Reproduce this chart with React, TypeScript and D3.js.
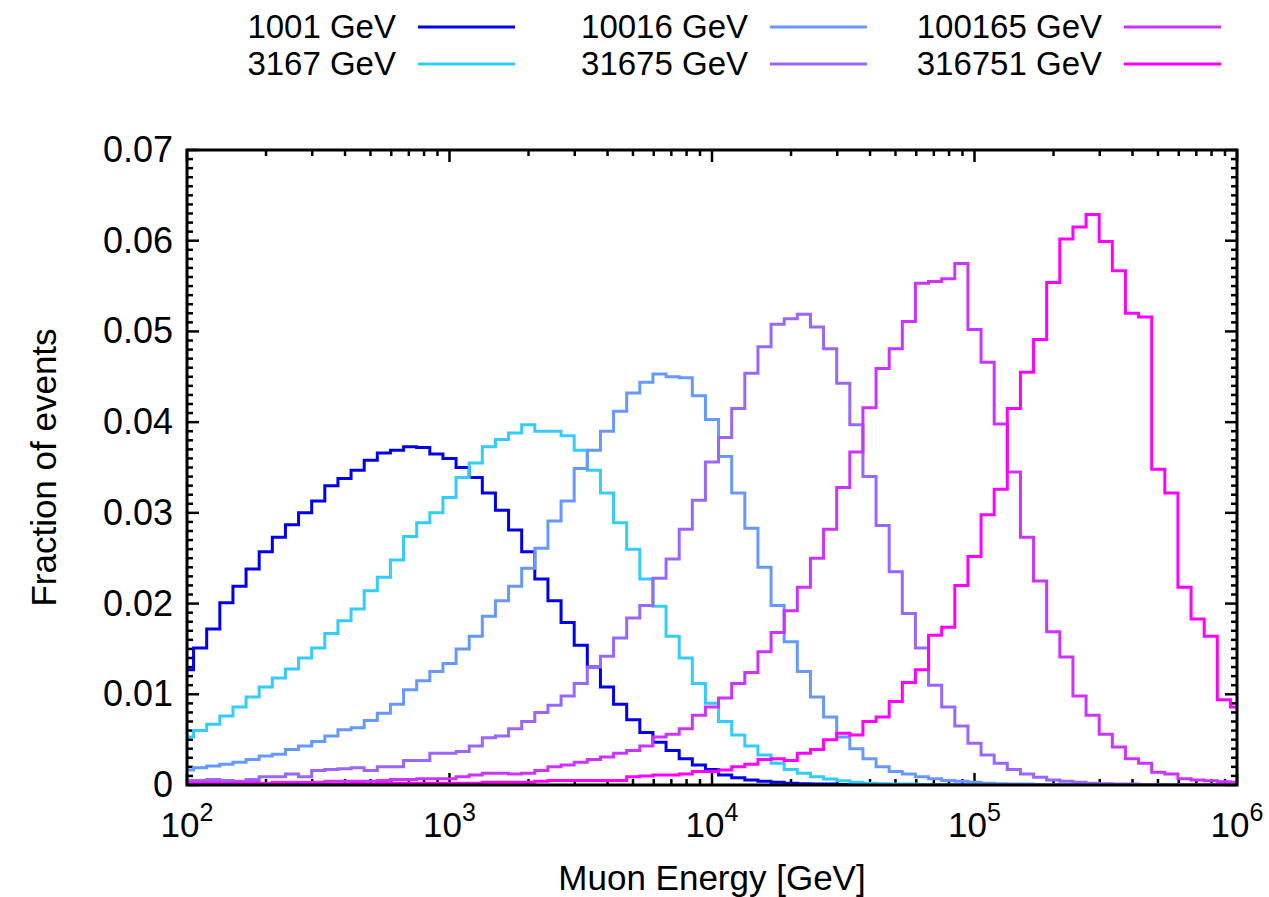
import React from 'react';
import * as d3 from 'd3';

const seriesLabels = ['1001 GeV', '3167 GeV', '10016 GeV', '31675 GeV', '100165 GeV', '316751 GeV'];
const seriesColors = ['#0000ee', '#33ccff', '#6699ff', '#9966ff', '#cc33ff', '#ff00ff'];

const e1001 = [
  0.0127, 0.0151, 0.0172, 0.0201, 0.0219, 0.0238, 0.0257, 0.0273, 0.0287, 0.0300,
  0.0313, 0.0330, 0.0338, 0.0347, 0.0358, 0.0366, 0.0369, 0.0373, 0.0372, 0.0365,
  0.0360, 0.0350, 0.0339, 0.0322, 0.0303, 0.0281, 0.0257, 0.0227, 0.0203, 0.0179,
  0.0154, 0.0130, 0.0108, 0.0089, 0.0072, 0.0058, 0.0047, 0.0038, 0.0029, 0.0022,
  0.0017, 0.0011, 0.0008, 0.00055, 0.0004, 0.0003, 0.0002, 0.00015, 0.0001, 0.0001,
  0.00005, 0, 0, 0, 0, 0, 0, 0, 0, 0,
  0, 0, 0, 0, 0, 0, 0, 0, 0, 0,
  0, 0, 0, 0, 0, 0, 0, 0, 0, 0,
  0,
];
const e3167 = [
  0.0053, 0.0060, 0.0067, 0.0076, 0.0086, 0.0097, 0.0108, 0.0118, 0.0128, 0.0140,
  0.0151, 0.0167, 0.0181, 0.0194, 0.0214, 0.0229, 0.0248, 0.0274, 0.0289, 0.0300,
  0.0317, 0.0339, 0.0355, 0.0373, 0.0381, 0.0388, 0.0397, 0.0390, 0.0390, 0.0385,
  0.0369, 0.0347, 0.0322, 0.0289, 0.0260, 0.0227, 0.0197, 0.0164, 0.0140, 0.0112,
  0.0090, 0.0070, 0.0055, 0.0043, 0.0033, 0.0024, 0.0017, 0.0013, 0.0009, 0.00066,
  0.00047, 0.0003, 0.0002, 0.00015, 0.0001, 0.0001, 0.00005, 0, 0, 0,
  0, 0, 0, 0, 0, 0, 0, 0, 0, 0,
  0, 0, 0, 0, 0, 0, 0, 0, 0, 0,
  0,
];
const e10016 = [
  0.00165, 0.0019, 0.0021, 0.0023, 0.0025, 0.0028, 0.0032, 0.0034, 0.0039, 0.0043,
  0.0048, 0.0054, 0.0061, 0.0063, 0.0071, 0.0079, 0.0089, 0.0105, 0.0115, 0.0125,
  0.0134, 0.0150, 0.0164, 0.0186, 0.0203, 0.0219, 0.0239, 0.0261, 0.0291, 0.0313,
  0.0349, 0.0369, 0.0390, 0.0412, 0.0432, 0.0444, 0.0453, 0.0450, 0.0449, 0.0429,
  0.0403, 0.0362, 0.0322, 0.0283, 0.0240, 0.0198, 0.0158, 0.0125, 0.0097, 0.0075,
  0.0053, 0.0040, 0.0029, 0.0020, 0.0015, 0.0012, 0.0009, 0.0007, 0.0005, 0.0004,
  0.0003, 0.0002, 0.00015, 0.0001, 0.0001, 0.00005, 0, 0, 0, 0,
  0, 0, 0, 0, 0, 0, 0, 0, 0, 0,
  0,
];
const e31675 = [
  0.0005, 0.0005, 0.0006, 0.0005, 0.0004, 0.0006, 0.0009, 0.0009, 0.0012, 0.0009,
  0.0016, 0.0017, 0.0018, 0.0019, 0.0016, 0.0020, 0.0020, 0.0027, 0.0027, 0.0035,
  0.0035, 0.0037, 0.0043, 0.0052, 0.0054, 0.0062, 0.0070, 0.0080, 0.0088, 0.0098,
  0.0112, 0.0130, 0.0142, 0.0162, 0.0184, 0.0198, 0.0228, 0.0249, 0.0282, 0.0314,
  0.0356, 0.0383, 0.0415, 0.0454, 0.0483, 0.0508, 0.0514, 0.0519, 0.0505, 0.0481,
  0.0443, 0.0397, 0.0340, 0.0286, 0.0235, 0.0189, 0.0151, 0.0110, 0.0086, 0.0065,
  0.0046, 0.0033, 0.0024, 0.0017, 0.0012, 0.00085, 0.00055, 0.0004, 0.0003, 0.0002,
  0.00015, 0.0001, 0.0001, 0.00005, 0, 0, 0, 0, 0, 0,
  0,
];
const e100165 = [
  0.0003, 0.0003, 0.0003, 0.0002, 0.0003, 0.0003, 0.0002, 0.0003, 0.0003, 0.0003,
  0.0003, 0.0004, 0.0004, 0.0004, 0.0004, 0.0005, 0.0006, 0.0006, 0.0007, 0.0007,
  0.0007, 0.0009, 0.0011, 0.0013, 0.0013, 0.0012, 0.0013, 0.0016, 0.0020, 0.0022,
  0.0025, 0.0028, 0.0031, 0.0035, 0.0038, 0.0043, 0.0053, 0.0056, 0.0062, 0.0077,
  0.0086, 0.0096, 0.0112, 0.0124, 0.0147, 0.0168, 0.0192, 0.0218, 0.0250, 0.0282,
  0.0328, 0.0367, 0.0416, 0.0459, 0.0481, 0.0511, 0.0553, 0.0555, 0.0558, 0.0575,
  0.0502, 0.0466, 0.0398, 0.0345, 0.0273, 0.0225, 0.0169, 0.0141, 0.0098, 0.0077,
  0.0056, 0.0042, 0.0029, 0.0024, 0.0014, 0.0012, 0.0007, 0.00055, 0.00047, 0.00036,
  0.0003,
];
const e316751 = [
  0.0001, 0.0001, 0.0001, 0.0001, 0.0001, 0.0001, 0.0001, 0.0001, 0.0001, 0.0001,
  0.0001, 0.0001, 0.0001, 0.0002, 0.0001, 0.0002, 0.0002, 0.0002, 0.0002, 0.0002,
  0.0002, 0.0002, 0.0002, 0.0003, 0.0003, 0.0003, 0.0003, 0.0004, 0.0005, 0.0005,
  0.0005, 0.0005, 0.0005, 0.0005, 0.0009, 0.0010, 0.0011, 0.0011, 0.0012, 0.0015,
  0.0015, 0.00165, 0.0020, 0.0023, 0.0028, 0.0029, 0.0027, 0.0035, 0.0039, 0.0050,
  0.0057, 0.0055, 0.0070, 0.0075, 0.0092, 0.0113, 0.0127, 0.0165, 0.0174, 0.0220,
  0.0252, 0.0298, 0.0326, 0.0415, 0.0455, 0.0491, 0.0554, 0.0602, 0.0615, 0.0629,
  0.0599, 0.0567, 0.0520, 0.0516, 0.0348, 0.0322, 0.0218, 0.0183, 0.0164, 0.0094,
  0.0086,
];
const seriesValues = [e1001, e3167, e10016, e31675, e100165, e316751];

// log-spaced bins: 20 per decade from 10^2 to 10^6 (bin centres)
const binsPerDecade = 20;
const binCenters = d3.range(e1001.length).map((k) => Math.pow(10, 2 + k / binsPerDecade));

const xTickExponents = [2, 3, 4, 5, 6];
const yTicks = [0, 0.01, 0.02, 0.03, 0.04, 0.05, 0.06, 0.07];
const yTickLabels = ['0', '0.01', '0.02', '0.03', '0.04', '0.05', '0.06', '0.07'];

const W = 1269;
const H = 897;
const M = { left: 187, right: 1237, top: 150, bottom: 785 };
const FONT = '"Liberation Sans", Arial, Helvetica, sans-serif';

export default function App() {
  const x = d3.scaleLog().domain([1e2, 1e6]).range([M.left, M.right]);
  const y = d3.scaleLinear().domain([0, 0.07]).range([M.bottom, M.top]);
  const half = Math.pow(10, 0.5 / binsPerDecade);

  const stepLine = d3
    .line<[number, number]>()
    .x((d) => x(d[0]))
    .y((d) => y(d[1]))
    .curve(d3.curveStepAfter);

  const paths = seriesValues.map((vals) => {
    const pts: [number, number][] = vals.map((v, i) => [binCenters[i] / half, v]);
    pts.push([binCenters[vals.length - 1] * half, vals[vals.length - 1]]);
    return stepLine(pts) || '';
  });

  const majorLen = 12;
  const minorLen = 6;
  const xMinor: number[] = [];
  for (let e = 2; e < 6; e++) for (let m = 2; m <= 9; m++) xMinor.push(m * Math.pow(10, e));
  const yMinor = d3.range(0, 71).map((i) => i / 1000).filter((v, i) => i % 10 !== 0);

  const legendCols = [
    { textEnd: 396, lineStart: 418 },
    { textEnd: 748, lineStart: 770 },
    { textEnd: 1102, lineStart: 1124 },
  ];
  const legendRows = [27, 64];
  const lineLen = 97;

  return (
    <svg
      width={W}
      height={H}
      style={{ position: 'absolute', left: 0, top: 0, background: '#fff' }}
      fontFamily={FONT}
    >
      <defs>
        <clipPath id="plotclip">
          <rect x={M.left} y={M.top} width={M.right - M.left} height={M.bottom - M.top} />
        </clipPath>
      </defs>
      <rect x={0} y={0} width={W} height={H} fill="#fff" />

      {/* ticks */}
      <g stroke="#000" strokeWidth={2.5}>
        {yTicks.map((t) => (
          <g key={'yt' + t}>
            <line x1={M.left} x2={M.left + majorLen} y1={y(t)} y2={y(t)} />
            <line x1={M.right} x2={M.right - majorLen} y1={y(t)} y2={y(t)} />
          </g>
        ))}
        {yMinor.map((t) => (
          <g key={'ym' + t}>
            <line x1={M.left} x2={M.left + minorLen} y1={y(t)} y2={y(t)} />
            <line x1={M.right} x2={M.right - minorLen} y1={y(t)} y2={y(t)} />
          </g>
        ))}
        {xTickExponents.map((e) => (
          <g key={'xt' + e}>
            <line x1={x(Math.pow(10, e))} x2={x(Math.pow(10, e))} y1={M.bottom} y2={M.bottom - majorLen} />
            <line x1={x(Math.pow(10, e))} x2={x(Math.pow(10, e))} y1={M.top} y2={M.top + majorLen} />
          </g>
        ))}
        {xMinor.map((v) => (
          <g key={'xm' + v}>
            <line x1={x(v)} x2={x(v)} y1={M.bottom} y2={M.bottom - minorLen} />
            <line x1={x(v)} x2={x(v)} y1={M.top} y2={M.top + minorLen} />
          </g>
        ))}
      </g>

      {/* histograms */}
      <g clipPath="url(#plotclip)" fill="none" strokeWidth={3} strokeLinejoin="miter">
        {paths.map((d, i) => (
          <path key={i} d={d} stroke={seriesColors[i]} />
        ))}
      </g>

      {/* frame */}
      <rect
        x={M.left}
        y={M.top}
        width={M.right - M.left}
        height={M.bottom - M.top}
        fill="none"
        stroke="#000"
        strokeWidth={3}
      />

      {/* y tick labels */}
      <g fontSize={36} textAnchor="end" fill="#000">
        {yTicks.map((t, i) => (
          <text key={'yl' + t} x={173} y={y(t) + 12}>
            {yTickLabels[i]}
          </text>
        ))}
      </g>

      {/* x tick labels */}
      <g fontSize={35} textAnchor="middle" fill="#000">
        {xTickExponents.map((e) => (
          <text key={'xl' + e} x={x(Math.pow(10, e))} y={837}>
            <tspan>10</tspan>
            <tspan dy={-16} fontSize={25}>
              {e}
            </tspan>
          </text>
        ))}
      </g>

      {/* axis titles */}
      <text x={712} y={890} fontSize={35} textAnchor="middle">
        Muon Energy [GeV]
      </text>
      <text
        transform={`translate(56,${(M.top + M.bottom) / 2}) rotate(-90)`}
        fontSize={35}
        textAnchor="middle"
      >
        Fraction of events
      </text>

      {/* legend */}
      {seriesLabels.map((lab, i) => {
        const col = legendCols[Math.floor(i / 2)];
        const ry = legendRows[i % 2];
        return (
          <g key={'lg' + i}>
            <text x={col.textEnd} y={ry + 11} fontSize={33} textAnchor="end">
              {lab}
            </text>
            <line
              x1={col.lineStart}
              x2={col.lineStart + lineLen}
              y1={ry}
              y2={ry}
              stroke={seriesColors[i]}
              strokeWidth={3}
            />
          </g>
        );
      })}
    </svg>
  );
}
